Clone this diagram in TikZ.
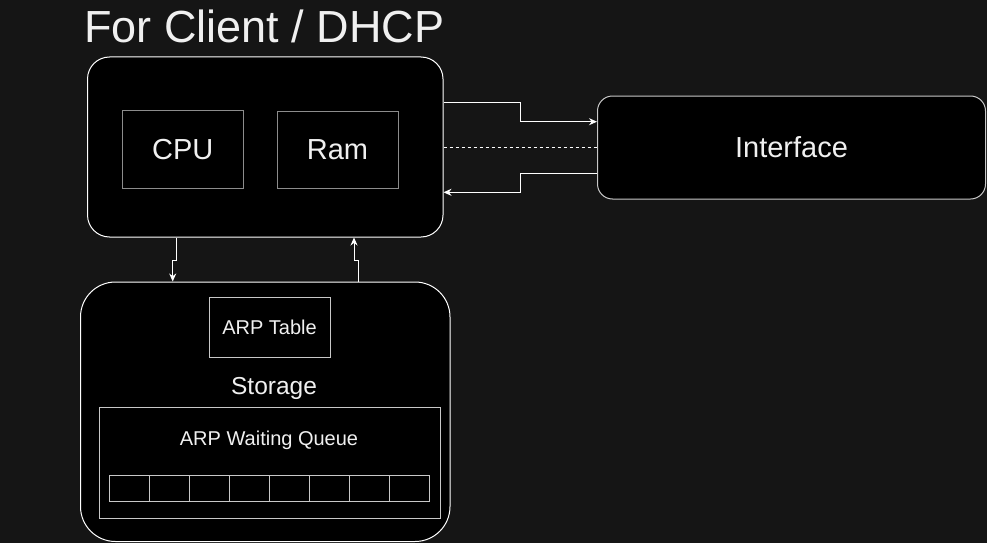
\documentclass[tikz,border=0pt]{standalone}
\usepackage{fontspec}
\setmainfont{Liberation Sans}
\usetikzlibrary{arrows.meta}
\definecolor{bgc}{RGB}{21,21,21}
\definecolor{txt}{RGB}{240,240,240}
\definecolor{graybd}{RGB}{140,140,140}
\definecolor{lightbd}{RGB}{200,200,200}
\tikzset{
  box/.style={draw=white, fill=black, line width=1pt, inner sep=0pt, text=txt},
  innerbox/.style={draw=graybd, fill=black, line width=1pt, inner sep=0pt, text=txt},
  cell/.style={draw=lightbd, fill=black, line width=0.8pt, minimum width=40pt, minimum height=26pt, inner sep=0pt},
  conn/.style={draw=white, line width=1pt, -{Stealth[length=8pt,width=7pt]}},
  lbl/.style={text=txt, inner sep=0pt},
}
\begin{document}
\begin{tikzpicture}[x=1pt,y=-1pt]
\fill[bgc] (0,0) rectangle (987,543);
\useasboundingbox (0,0) rectangle (987,543);

\node[lbl, anchor=base west, font=\fontsize{45}{48}\selectfont] (title) at (84,43) {For Client / DHCP};

\node[box, rounded corners=22pt, minimum width=355.5pt, minimum height=180pt] (main) at (265.25,147) {};
\node[innerbox, minimum width=120.5pt, minimum height=77.5pt, font=\fontsize{29}{32}\selectfont] (cpu) at (182.75,149.25) {CPU};
\node[innerbox, minimum width=121pt, minimum height=77pt, font=\fontsize{29}{32}\selectfont] (ram) at (337.5,149.5) {Ram};

\node[box, draw=lightbd, rounded corners=15pt, minimum width=388pt, minimum height=103pt, font=\fontsize{29}{32}\selectfont] (iface) at (791.5,147.5) {Interface};

\node[box, rounded corners=35pt, minimum width=369.5pt, minimum height=259.5pt] (storage) at (265.25,411.75) {};
\node[box, draw=lightbd, minimum width=121pt, minimum height=60pt, font=\fontsize{20}{22}\selectfont] (arpt) at (269.5,327) {ARP Table};
\node[lbl, font=\fontsize{24.5}{26}\selectfont] (storlbl) at (274,388.5) {Storage};
\node[box, draw=lightbd, minimum width=340.5pt, minimum height=111.5pt] (queue) at (269.75,462.75) {};
\node[lbl, font=\fontsize{20}{22}\selectfont] (qlbl) at (269,440) {ARP Waiting Queue};
\foreach \i in {0,...,7} {
  \node[cell] (c\i) at (129.5+40*\i,488) {};
}

% connectors main <-> interface
\coordinate (j1) at (520.3,102.3);
\coordinate (j2) at (520.3,121.7);
\coordinate (j3) at (520.3,173);
\coordinate (j4) at (520.3,192.3);
\draw[conn] (main.east |- j1) -- (j1) -- (j2) -- (iface.west |- j2);
\draw[conn] (iface.west |- j3) -- (j3) -- (j4) -- (main.east |- j4);
\draw[draw=white, line width=1pt, dash pattern=on 3pt off 3pt] (main.east) -- (main.east -| iface.west);

% connectors main <-> storage
\coordinate (k1) at (176.7,260);
\coordinate (k2) at (172.7,260);
\coordinate (k3) at (358,260);
\coordinate (k4) at (354,260);
\draw[conn] (main.south -| k1) -- (k1) -- (k2) -- (storage.north -| k2);
\draw[conn] (storage.north -| k3) -- (k3) -- (k4) -- (main.south -| k4);
\end{tikzpicture}
\end{document}
